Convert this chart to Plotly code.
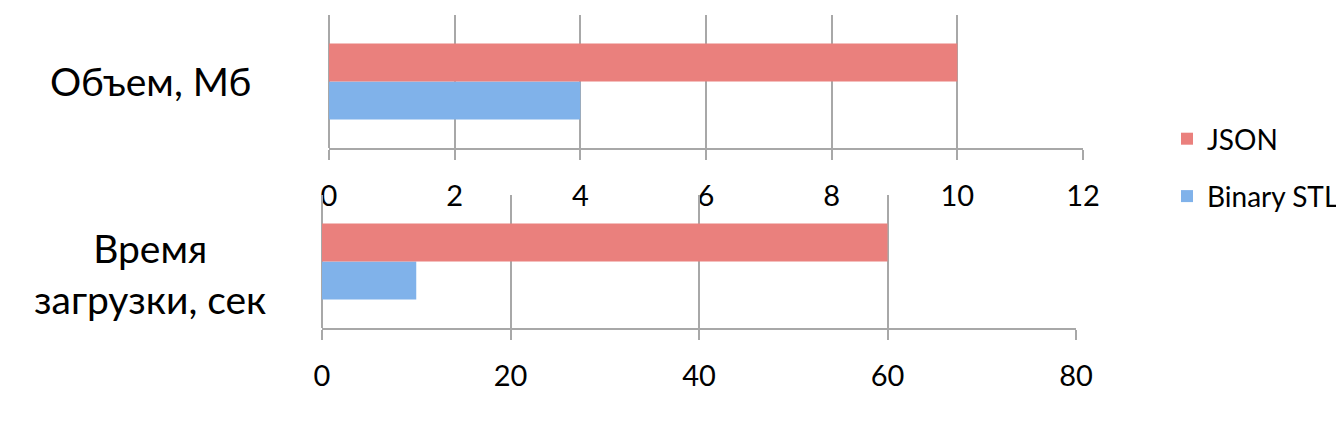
import plotly.graph_objects as go

# ---- data ----
series = ["JSON", "Binary STL"]
size_category = ["Объем, Мб"]
time_category = ["Время загрузки, сек"]
json_size = [10]
stl_size = [4]
json_time = [60]
stl_time = [10]
size_ticks = [0, 2, 4, 6, 8, 10, 12]
time_ticks = [0, 20, 40, 60, 80]

# ---- style ----
# the page body has an 8px margin, so the figure starts at (8, 8) in the window
OFF = 8
W, H = 1344 - OFF, 422 - OFF
FONT = "Lato"
GRID = "#A8A8A8"
colors = {"JSON": "#EA807D", "Binary STL": "#80B2EA"}


def px_x(x):
    return (x - OFF) / W


def px_y(y):
    return 1 - (y - OFF) / H


fig = go.Figure()

# Binary STL first so that JSON sits on top inside each group
fig.add_trace(go.Bar(y=size_category, x=stl_size, orientation="h", name=series[1],
                     marker=dict(color=colors[series[1]], line=dict(width=0)),
                     xaxis="x", yaxis="y", legendrank=2, legendgroup="stl"))
fig.add_trace(go.Bar(y=size_category, x=json_size, orientation="h", name=series[0],
                     marker=dict(color=colors[series[0]], line=dict(width=0)),
                     xaxis="x", yaxis="y", legendrank=1, legendgroup="json"))
fig.add_trace(go.Bar(y=time_category, x=stl_time, orientation="h", name=series[1],
                     marker=dict(color=colors[series[1]], line=dict(width=0)),
                     xaxis="x2", yaxis="y2", showlegend=False, legendgroup="stl"))
fig.add_trace(go.Bar(y=time_category, x=json_time, orientation="h", name=series[0],
                     marker=dict(color=colors[series[0]], line=dict(width=0)),
                     xaxis="x2", yaxis="y2", showlegend=False, legendgroup="json"))

xcommon = dict(showgrid=True, gridcolor=GRID, gridwidth=1.5, showline=True,
               linecolor=GRID, linewidth=1.5, ticks="outside", ticklen=10,
               tickcolor=GRID, tickwidth=1.5,
               zeroline=True, zerolinecolor=GRID, zerolinewidth=1.5,
               tickfont=dict(family=FONT, size=29, color="black"),
               ticklabelstandoff=11, fixedrange=True, automargin=False)
ycommon = dict(type="category", showticklabels=False, showgrid=False,
               showline=False, zeroline=False, ticks="", automargin=False)

fig.update_layout(
    template="none",
    width=W, height=H,
    margin=dict(l=0, r=0, t=0, b=0, pad=0),
    paper_bgcolor="white", plot_bgcolor="white",
    barmode="group", bargap=0.43, bargroupgap=0,
    font=dict(family=FONT, color="black"),
    xaxis=dict(domain=[px_x(329), px_x(1083)], range=[0, 12], tickvals=size_ticks,
               anchor="y", **xcommon),
    yaxis=dict(domain=[px_y(148), px_y(15)], anchor="x", **ycommon),
    xaxis2=dict(domain=[px_x(322), px_x(1076)], range=[0, 80], tickvals=time_ticks,
                anchor="y2", **xcommon),
    yaxis2=dict(domain=[px_y(328), px_y(195)], anchor="x2", **ycommon),
    legend=dict(x=1.0, xanchor="right", y=px_y(114), yanchor="top",
                font=dict(family=FONT, size=28, color="black"),
                tracegroupgap=18, bgcolor="rgba(0,0,0,0)", borderwidth=0),
    showlegend=True,
)

fig.add_annotation(x=px_x(150), xref="paper", xanchor="center",
                   y=size_category[0], yref="y", yanchor="middle",
                   text=size_category[0], showarrow=False,
                   font=dict(family=FONT, size=39, color="black"))
fig.add_annotation(x=px_x(150), xref="paper", xanchor="center",
                   y=time_category[0], yref="y2", yanchor="middle", yshift=-12,
                   text=time_category[0].replace(" ", "<br>", 1), showarrow=False,
                   align="center",
                   font=dict(family=FONT, size=39, color="black"))

fig.write_html("out.html")
